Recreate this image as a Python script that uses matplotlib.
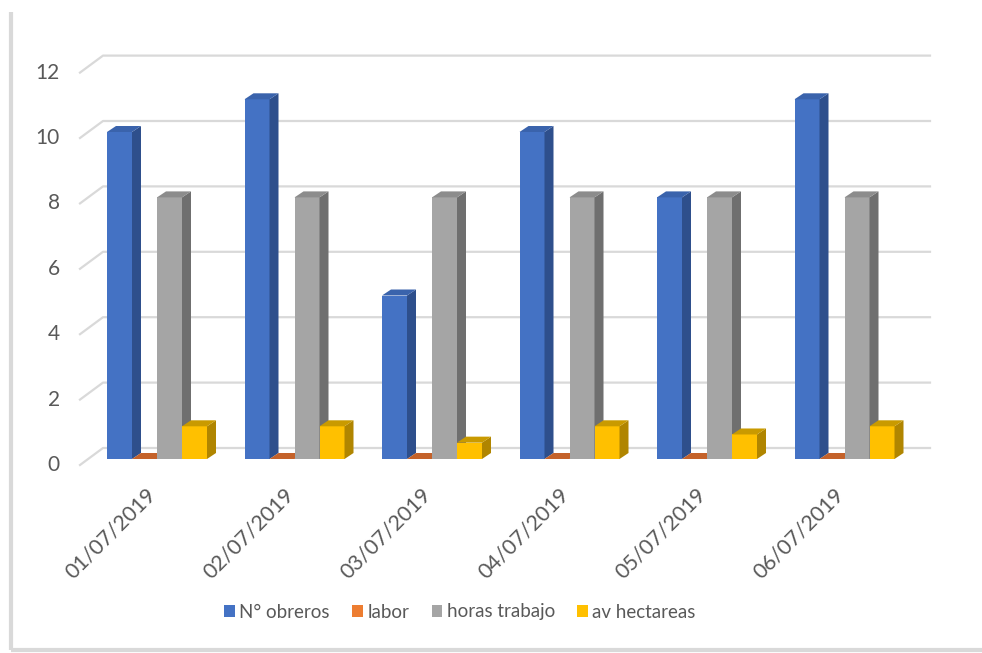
import matplotlib
matplotlib.use("Agg")
import matplotlib.pyplot as plt
from matplotlib.patches import Polygon, Patch
import numpy as np

plt.rcParams['font.family'] = ['Lato', 'DejaVu Sans']

categories = ["01/07/2019", "02/07/2019", "03/07/2019", "04/07/2019", "05/07/2019", "06/07/2019"]
series_names = ["N° obreros", "labor", "horas trabajo", "av hectareas"]
obreros = [10, 11, 5, 10, 8, 11]
labor = [0, 0, 0, 0, 0, 0]
horas = [8, 8, 8, 8, 8, 8]
hectareas = [1, 1, 0.5, 1, 0.75, 1]
yticks = [0, 2, 4, 6, 8, 10, 12]

series = [obreros, labor, horas, hectareas]
front_cols = ["#4472C4", "#ED7D31", "#A5A5A5", "#FFC000"]
side_cols = ["#2E4F8C", "#A9561F", "#6F6F6F", "#B08500"]
top_cols = ["#3A63AC", "#C4622A", "#8C8C8C", "#C99A00"]

W, H = 982, 653
fig = plt.figure(figsize=(W / 100, H / 100), dpi=100)
ax = fig.add_axes([0, 0, 1, 1])

# pixel <-> data mapping
X0, XS = 157.0, 137.5
Y0, YS = 459.0, 32.7
ax.set_xlim(-X0 / XS, (W - X0) / XS)
ax.set_ylim((Y0 - H) / YS, Y0 / YS)
ax.axis('off')

def dxp(p):
    return p / XS

def dyp(p):
    return p / YS

# outer frame (left and bottom shadow lines)
ax.plot([dxp(11 - X0), dxp(11 - X0)], [dyp(Y0 - 12), dyp(Y0 - 650)], color="#d9d9d9", lw=3, solid_capstyle='butt')
ax.plot([dxp(11 - X0), dxp(W - X0)], [dyp(Y0 - 650), dyp(Y0 - 650)], color="#d9d9d9", lw=3, solid_capstyle='butt')

# gridlines (back wall with side perspective)
xl_front, xl_back, x_right = dxp(80 - X0), dxp(103 - X0), dxp(930 - X0)
for v in yticks:
    ax.plot([xl_front, xl_back, x_right], [v - dyp(6), v + dyp(11), v + dyp(11)],
            color="#d9d9d9", lw=1.6, zorder=1)
    ax.text(dxp(60 - X0), v - dyp(6), str(v), ha='right', va='center',
            fontsize=15, color="#595959")

# 3D bars
bw = dxp(25)
ddx, ddy = dxp(9), dyp(6)
offsets = [-1.5, -0.5, 0.5, 1.5]
x = np.arange(len(categories))
z = 3
for i in range(len(categories)):
    for k, (vals, off) in enumerate(zip(series, offsets)):
        xc = x[i] + off * bw
        v = vals[i]
        x0, x1 = xc - bw / 2, xc + bw / 2
        ax.bar(xc, v, width=bw, color=front_cols[k], zorder=z, linewidth=0)
        ax.add_patch(Polygon([(x1, 0), (x1 + ddx, ddy), (x1 + ddx, v + ddy), (x1, v)],
                             closed=True, facecolor=side_cols[k], edgecolor='none', zorder=z))
        ax.add_patch(Polygon([(x0, v), (x0 + ddx, v + ddy), (x1 + ddx, v + ddy), (x1, v)],
                             closed=True, facecolor=top_cols[k], edgecolor='none', zorder=z))
        z += 1

# category labels
for i, c in enumerate(categories):
    ax.text(x[i] - dxp(4), dyp(Y0 - 491), c, rotation=45, rotation_mode='anchor',
            ha='right', va='center', fontsize=15.5, color="#595959")

handles = [Patch(facecolor=c, edgecolor='none') for c in front_cols]
fig.legend(handles, series_names, loc='center', bbox_to_anchor=(460 / W, 1 - 612 / H),
           ncol=4, frameon=False, fontsize=13.5, handlelength=0.55, handleheight=0.55,
           handletextpad=0.25, columnspacing=1.2, labelcolor="#595959")

fig.savefig("out.png", dpi=100)
